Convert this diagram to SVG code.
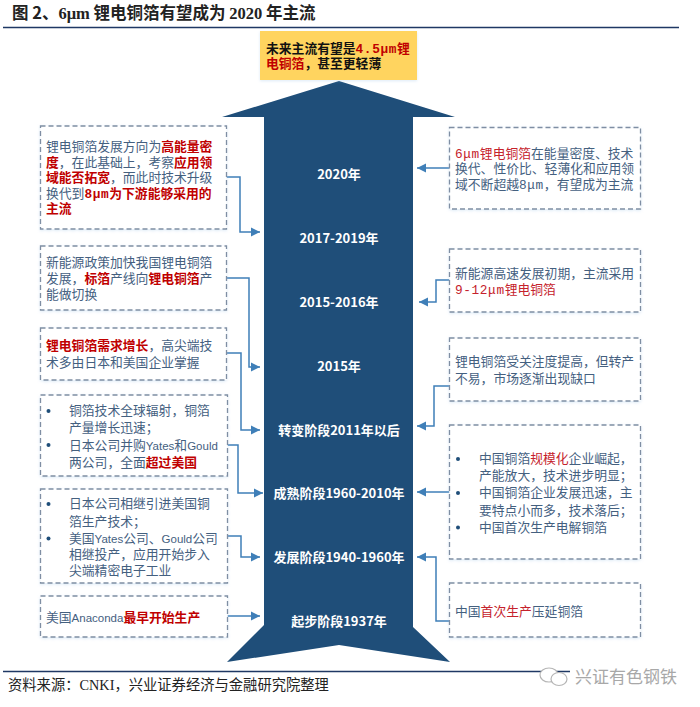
<svg xmlns="http://www.w3.org/2000/svg" width="700" height="707" viewBox="0 0 700 707">
<defs>
<marker id="ah" markerUnits="userSpaceOnUse" markerWidth="10" markerHeight="10" refX="9" refY="5" orient="auto"><path d="M0,0.5 L9,5 L0,9.5 Z" fill="#3f7fb8"/></marker>
<filter id="sh" x="-5%" y="-5%" width="110%" height="115%"><feDropShadow dx="0" dy="1" stdDeviation="1.5" flood-color="#9dc3e6" flood-opacity="0.35"/></filter>
</defs>
<style>
text{font-family:"Noto Sans CJK SC","Noto Sans",sans-serif}
.box{fill:#fff;stroke:#7f8ea3;stroke-width:1.3;stroke-dasharray:5 3;filter:url(#sh)}
.t,.y{font-family:"Liberation Sans","Noto Sans CJK SC",sans-serif;font-size:12.8px}
.t{fill:#44607f}
.y{font-weight:700;fill:#111}
.r{fill:#c00000;font-weight:700}
.q{fill:#c5222c}
.u{font-family:"Liberation Mono",monospace;letter-spacing:0.6px}
.l{font-size:11.5px}
.c{font-size:13px;font-weight:700;fill:#fff;text-anchor:middle}
.b{fill:#1f4e79}
.con{fill:none;stroke:#3f7fb8;stroke-width:1.5;marker-end:url(#ah)}
.rule{stroke:#1f3864;stroke-width:1.5}
.s{font-family:"Liberation Serif",serif}
</style>
<rect width="700" height="707" fill="#fff"/>
<text x="12" y="18.500" font-size="16.500" font-weight="700" fill="#222">图 2、<tspan class="s">6μm</tspan> 锂电铜箔有望成为 <tspan class="s">2020</tspan> 年主流</text>
<line class="rule" x1="3" y1="27.500" x2="679" y2="27.500"/>

<g id="arrow">
<path d="M339,81 L455,117 L413,117 L413,627 L450,662 L339,645 L227,662 L264,625 L264,117 L222,117 Z" fill="#1f4e79"/>
<text class="c" x="339" y="179">2020年</text>
<text class="c" x="339" y="243">2017-2019年</text>
<text class="c" x="339" y="307">2015-2016年</text>
<text class="c" x="339" y="371">2015年</text>
<text class="c" x="339" y="435">转变阶段2011年以后</text>
<text class="c" x="339" y="498">成熟阶段1960-2010年</text>
<text class="c" x="339" y="562">发展阶段1940-1960年</text>
<text class="c" x="339" y="626">起步阶段1937年</text>
</g>

<g id="top-note">
<rect x="260" y="31" width="157" height="49" fill="#ffd45f" filter="url(#sh)"/>
<text class="y" x="266" y="52.500">未来主流有望是<tspan fill="#c00000"><tspan class="u">4.5μm</tspan>锂</tspan></text>
<text class="y" x="266" y="68"><tspan fill="#c00000">电铜箔</tspan>，甚至更轻薄</text>
</g>

<g id="connectors">
<path class="con" d="M226.500,177 H240 V232 H260"/>
<path class="con" d="M226.500,278 H249 V367 H260"/>
<path class="con" d="M226.500,353 H241 V430 H260"/>
<path class="con" d="M227.500,445 H238 V493 H263"/>
<path class="con" d="M227.500,536 H241 V557 H260"/>
<path class="con" d="M227.500,616 H260"/>
<path class="con" d="M449.500,168 H417"/>
<path class="con" d="M449.500,280 H436 V302 H419"/>
<path class="con" d="M449.500,386 H434 V426 H417"/>
<path class="con" d="M449.500,492 H417"/>
<path class="con" d="M449.500,621 H436 V557 H417"/>
</g>

<g id="left-1">
<rect class="box" x="40.500" y="126" width="186" height="103"/>
<text class="t" x="46" y="150.500">锂电铜箔发展方向为<tspan class="r">高能量密</tspan></text>
<text class="t" x="46" y="166.500"><tspan class="r">度</tspan>，在此基础上，考察<tspan class="r">应用领</tspan></text>
<text class="t" x="46" y="182"><tspan class="r">域能否拓宽</tspan>，而此时技术升级</text>
<text class="t" x="46" y="197.500">换代到<tspan class="r"><tspan class="u">8μm</tspan>为下游能够采用的</tspan></text>
<text class="t" x="46" y="212.500"><tspan class="r">主流</tspan></text>
</g>
<g id="left-2">
<rect class="box" x="40.500" y="246" width="186" height="64"/>
<text class="t" x="46" y="267">新能源政策加快我国锂电铜箔</text>
<text class="t" x="46" y="283">发展，<tspan class="r">标箔</tspan>产线向<tspan class="r">锂电铜箔</tspan>产</text>
<text class="t" x="46" y="298.500">能做切换</text>
</g>
<g id="left-3">
<rect class="box" x="40.500" y="328" width="186" height="52"/>
<text class="t" x="46" y="349.500"><tspan class="r">锂电铜箔需求增长</tspan>，高尖端技</text>
<text class="t" x="46" y="366.500">术多由日本和美国企业掌握</text>
</g>
<g id="left-4">
<rect class="box" x="40.500" y="395" width="187" height="81"/>
<circle class="b" cx="48.500" cy="411" r="2"/>
<circle class="b" cx="48.500" cy="445" r="2"/>
<text class="t" x="69" y="415">铜箔技术全球辐射，铜箔</text>
<text class="t" x="69" y="432">产量增长迅速；</text>
<text class="t" x="69" y="449.500">日本公司并购<tspan class="l">Yates</tspan>和<tspan class="l">Gould</tspan></text>
<text class="t" x="69" y="466.500">两公司，全面<tspan class="r">超过美国</tspan></text>
</g>
<g id="left-5">
<rect class="box" x="40.500" y="489" width="187" height="94"/>
<circle class="b" cx="48.500" cy="504" r="2"/>
<circle class="b" cx="48.500" cy="538.500" r="2"/>
<text class="t" x="69" y="508">日本公司相继引进美国铜</text>
<text class="t" x="69" y="525.500">箔生产技术；</text>
<text class="t" x="69" y="542.500">美国<tspan class="l">Yates</tspan>公司、<tspan class="l">Gould</tspan>公司</text>
<text class="t" x="69" y="558.500">相继投产，应用开始步入</text>
<text class="t" x="69" y="575">尖端精密电子工业</text>
</g>
<g id="left-6">
<rect class="box" x="40.500" y="596" width="187" height="41"/>
<text class="t" x="46" y="621.500">美国<tspan class="l">Anaconda</tspan><tspan class="r">最早开始生产</tspan></text>
</g>

<g id="right-1">
<rect class="box" x="449.500" y="127.500" width="191" height="81.500"/>
<text class="t" x="455" y="157.500"><tspan class="q"><tspan class="u">6μm</tspan>锂电铜箔</tspan>在能量密度、技术</text>
<text class="t" x="455" y="173">换代、性价比、轻薄化和应用领</text>
<text class="t" x="455" y="188.500">域不断超越<tspan class="u">8μm</tspan>，有望成为主流</text>
</g>
<g id="right-2">
<rect class="box" x="449.500" y="249" width="191" height="63"/>
<text class="t" x="455" y="277.500">新能源高速发展初期，主流采用</text>
<text class="t" x="455" y="293.500"><tspan class="q"><tspan class="u">9-12μm</tspan>锂电铜箔</tspan></text>
</g>
<g id="right-3">
<rect class="box" x="449.500" y="338" width="191" height="63"/>
<text class="t" x="455" y="365.500">锂电铜箔受关注度提高，但转产</text>
<text class="t" x="455" y="382.500">不易，市场逐渐出现缺口</text>
</g>
<g id="right-4">
<rect class="box" x="449.500" y="425" width="191" height="134"/>
<circle class="b" cx="458" cy="459" r="2"/>
<circle class="b" cx="458" cy="493" r="2"/>
<circle class="b" cx="458" cy="527.500" r="2"/>
<text class="t" x="479" y="462.500">中国铜箔<tspan class="q">规模化</tspan>企业崛起，</text>
<text class="t" x="479" y="480">产能放大，技术进步明显；</text>
<text class="t" x="479" y="497">中国铜箔企业发展迅速，主</text>
<text class="t" x="479" y="514.500">要特点小而多，技术落后；</text>
<text class="t" x="479" y="531.500">中国首次生产电解铜箔</text>
</g>
<g id="right-5">
<rect class="box" x="449.500" y="583" width="191" height="54"/>
<text class="t" x="455" y="615.500">中国<tspan class="q">首次生产</tspan>压延铜箔</text>
</g>

<line class="rule" x1="3" y1="671.500" x2="570" y2="671.500"/>
<text x="8" y="690" font-size="14.300" fill="#222">资料来源：<tspan class="s">CNKI</tspan>，兴业证券经济与金融研究院整理</text>
<g id="watermark" fill="#fff" stroke="#b5b5b5" stroke-width="1.200">
<ellipse cx="549" cy="675" rx="9" ry="7"/>
<ellipse cx="559" cy="679" rx="8" ry="6.500"/>
</g>
<text x="575" y="683" font-size="17" fill="#a8a8a8">兴证有色钢铁</text>
</svg>
